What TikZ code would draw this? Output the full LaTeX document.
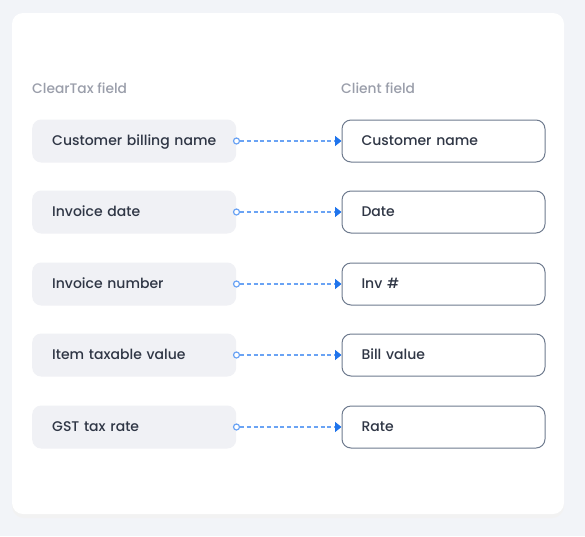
\documentclass[tikz,border=0pt]{standalone}
\usepackage{fontspec}
\setmainfont{Poppins}[BoldFont={Poppins Medium}]
\usetikzlibrary{arrows.meta}
\definecolor{bgc}{HTML}{F2F4F8}
\definecolor{boxfill}{HTML}{F0F1F5}
\definecolor{boxline}{HTML}{6E7A8E}
\definecolor{txt}{HTML}{2F3645}
\definecolor{hdr}{HTML}{9A9EAA}
\definecolor{dashc}{HTML}{6AA3F4}
\definecolor{tipc}{HTML}{1F74EC}
\tikzset{
  fieldtext/.style={font=\fontsize{14}{15}\selectfont\bfseries\color{txt}, text height=11pt, text depth=1.5pt, align=left, text width=184pt, inner ysep=0pt, execute at begin node=\hspace*{10pt}},
  src/.style={fieldtext, fill=boxfill, draw=none, rounded corners=9pt, minimum width=204pt, minimum height=43pt, inner xsep=10pt},
  dst/.style={fieldtext, fill=white, draw=boxline, line width=1pt, rounded corners=9pt, minimum width=203pt, minimum height=42pt, inner xsep=9.5pt},
  hdrtext/.style={anchor=west, inner sep=0pt, font=\fontsize{13.8}{15}\selectfont\bfseries\color{hdr}},
  link/.style={draw=dashc, line width=1.3pt, dash pattern=on 4pt off 2.7pt, -{Triangle[length=6.5pt,width=10pt,color=tipc]}},
  dotc/.style={circle, draw=dashc, fill=white, line width=1.2pt, minimum size=6pt, inner sep=0pt}
}
\begin{document}
\begin{tikzpicture}[x=1pt,y=-1pt]
\useasboundingbox (0,0) rectangle (585,536);
\fill[bgc] (0,0) rectangle (585,536);
\fill[black!5, rounded corners=12pt] (12,16) rectangle (564,518);
\fill[white, rounded corners=11pt] (12,13) rectangle (564,514);
\node[hdrtext] (h1) at (32,88) {ClearTax field};
\node[hdrtext] (h2) at (341,88) {Client field};
\foreach \i/\y/\a/\b in {1/141/Customer billing name/Customer name, 2/212/Invoice date/Date, 3/284/Invoice number/Inv \#, 4/355/Item taxable value/Bill value, 5/427/GST tax rate/Rate}{
  \node[src, anchor=west] (s\i) at (32,\y) {\a};
  \node[dst, anchor=west] (d\i) at (341.5,\y) {\b};
  \node[dotc] (c\i) at (236.5,\y) {};
  \draw[link] (c\i.east) -- (d\i.west);
}
\end{tikzpicture}
\end{document}
